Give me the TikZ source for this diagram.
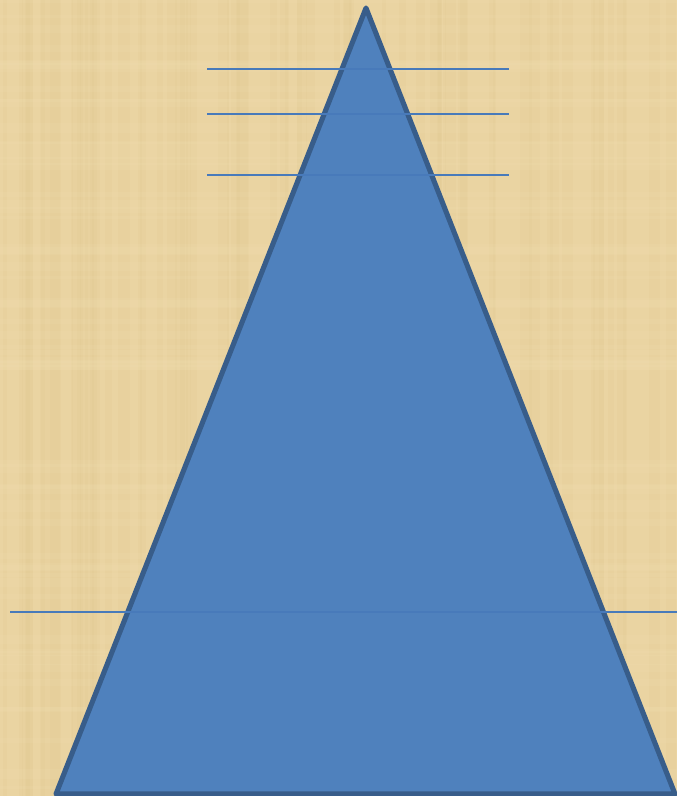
\documentclass[tikz,border=0pt]{standalone}
\definecolor{papyrus}{RGB}{234,212,162}
\definecolor{papyrusdark}{RGB}{214,186,120}
\definecolor{papyruslight}{RGB}{243,226,182}
\definecolor{pyrfill}{RGB}{79,129,189}
\definecolor{pyredge}{RGB}{56,93,138}
\definecolor{pyrline}{RGB}{72,122,186}
\begin{document}
\begin{tikzpicture}[
x=0.75pt, y=-0.75pt,
pyramid/.style={fill=pyrfill, draw=pyredge, line width=3.8pt, line join=round},
level/.style={draw=pyrline, line width=1.4pt}
]
\useasboundingbox (0,0) rectangle (677,796);
% papyrus background
\fill[papyrus] (0,0) rectangle (677,796);
\pgfmathsetseed{7}
\foreach \i in {1,...,70} {
  \pgfmathsetmacro{\px}{rnd*677}
  \pgfmathsetmacro{\pw}{2+rnd*10}
  \fill[papyrusdark, opacity=0.08] (\px,0) rectangle ++(\pw,796);
}
\foreach \i in {1,...,60} {
  \pgfmathsetmacro{\py}{rnd*796}
  \pgfmathsetmacro{\ph}{2+rnd*8}
  \fill[papyruslight, opacity=0.14] (0,\py) rectangle ++(677,\ph);
}
% pyramid
\coordinate (apex) at (366,8);
\coordinate (baseL) at (56,794);
\coordinate (baseR) at (675,794);
\draw[pyramid] (apex) -- (baseR) -- (baseL) -- cycle;
% level lines
\coordinate (l1a) at (207,69);  \coordinate (l1b) at (509,69);
\coordinate (l2a) at (207,114); \coordinate (l2b) at (509,114);
\coordinate (l3a) at (207,175); \coordinate (l3b) at (509,175);
\coordinate (l4a) at (10,612);  \coordinate (l4b) at (677,612);
\draw[level] (l1a) -- (l1b);
\draw[level] (l2a) -- (l2b);
\draw[level] (l3a) -- (l3b);
\draw[level] (l4a) -- (l4b);
\end{tikzpicture}
\end{document}
